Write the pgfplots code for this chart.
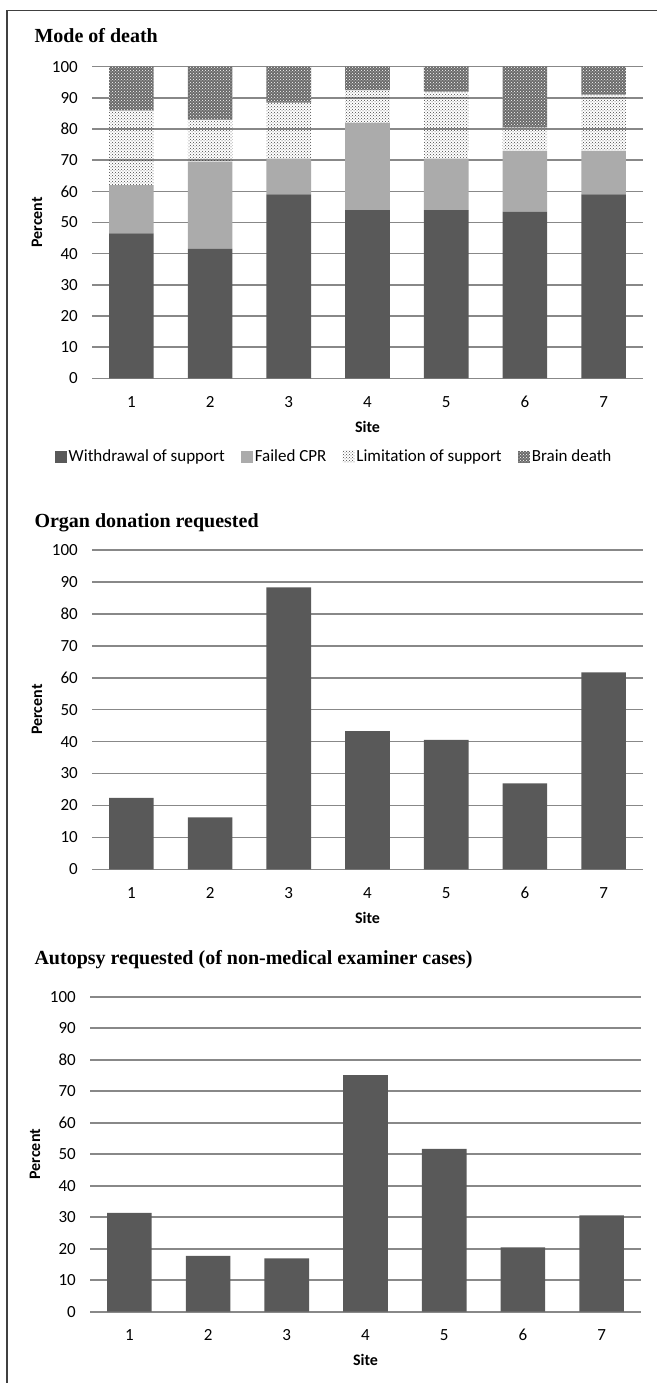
\documentclass[border=0pt]{standalone}
\usepackage{fontspec}
\setmainfont{Carlito}[Ligatures=NoCommon]
\newfontfamily\titlefont{Liberation Serif}
\usepackage{pgfplots}
\pgfplotsset{compat=1.18}
\usetikzlibrary{patterns}

\definecolor{darkbar}{HTML}{595959}
\definecolor{lightbar}{HTML}{ABABAB}
\definecolor{gridgray}{HTML}{888888}
\definecolor{dotgray}{HTML}{454545}
\definecolor{braingray}{HTML}{6A6A6A}

\pgfplotsset{
  sitechart/.style={
    scale only axis, width=551pt,
    anchor=south west,
    xmin=0.5, xmax=7.5, ymin=0, ymax=100,
    xtick={1,...,7}, ytick={0,10,...,100},
    axis x line*=bottom, axis y line*=left,
    x axis line style={draw=none}, y axis line style={draw=none},
    major tick length=0pt,
    ymajorgrids, grid style={gridgray, line width=1.6pt},
    /pgf/number format/assume math mode=true,
    tick label style={font=\fontsize{17}{20}\selectfont, inner sep=0pt},
    xticklabel style={anchor=base, yshift=-28.9pt},
    yticklabel style={anchor=east, xshift=-14pt},
    xlabel=Site, ylabel=Percent,
    label style={font=\fontsize{16}{19}\selectfont\bfseries},
    xlabel style={at={(axis description cs:0.5,0)}, anchor=base, yshift=-54.2pt},
    ylabel style={at={(axis description cs:-0.0998,0.5)}, anchor=center},
    bar width=44.6pt,
  },
  sq/.style={legend image code/.code={\path[##1] (0pt,-6pt) rectangle (12pt,6pt);}},
}

\begin{document}
\begin{tikzpicture}
\useasboundingbox (0pt,0pt) rectangle (657pt,-1383pt);
% frame
\draw[line width=1.3pt, black!75] (7pt,-1383pt) -- (7pt,-10.7pt) -- (657pt,-10.7pt);

\node[anchor=base west, font=\titlefont\bfseries\fontsize{20}{24}\selectfont] at (31pt,-42.7pt) {Mode of death};
\node[anchor=base west, font=\titlefont\bfseries\fontsize{20}{24}\selectfont] at (31pt,-527.3pt) {Organ donation requested};
\node[anchor=base west, font=\titlefont\bfseries\fontsize{20}{24}\selectfont] at (31pt,-964pt) {Autopsy requested (of non-medical examiner cases)};

% mode of death
\begin{axis}[sitechart, height=311.6pt, at={(92pt,-378.3pt)}, ybar stacked,
  legend style={at={(axis description cs:-0.068,-0.2516)}, anchor=west,
    draw=none, fill=none, inner sep=0pt, legend columns=4,
    font=\fontsize{17}{20}\selectfont,
    /tikz/every even column/.append style={column sep=14pt}},
  legend cell align=left]
\addplot[sq, fill=darkbar, draw=none] coordinates {(1,46.5) (2,41.5) (3,59) (4,54) (5,54) (6,53.5) (7,59)};
\addplot[sq, fill=lightbar, draw=none] coordinates {(1,15.5) (2,28) (3,11.5) (4,28) (5,16.5) (6,19.5) (7,14)};
\addplot[sq, draw=none, pattern=crosshatch dots, pattern color=dotgray] coordinates {(1,24) (2,13.5) (3,18) (4,10.5) (5,21.5) (6,7.5) (7,18)};
\addplot[sq, draw=none, fill=braingray, postaction={pattern=crosshatch dots, pattern color=white}] coordinates {(1,14) (2,17) (3,11.5) (4,7.5) (5,8) (6,19.5) (7,9)};
\legend{Withdrawal of support, Failed CPR, Limitation of support, Brain death}
\end{axis}

% organ donation
\begin{axis}[sitechart, height=319.3pt, at={(92pt,-869.3pt)}, ybar]
\addplot[fill=darkbar, draw=none] coordinates {(1,22.4) (2,16.3) (3,88.3) (4,43.3) (5,40.5) (6,26.9) (7,61.7)};
\end{axis}

% autopsy
\begin{axis}[sitechart, height=315pt, at={(90pt,-1311.7pt)}, ybar]
\addplot[fill=darkbar, draw=none] coordinates {(1,31.4) (2,17.7) (3,16.9) (4,75.1) (5,51.7) (6,20.4) (7,30.6)};
\end{axis}
\end{tikzpicture}
\end{document}
